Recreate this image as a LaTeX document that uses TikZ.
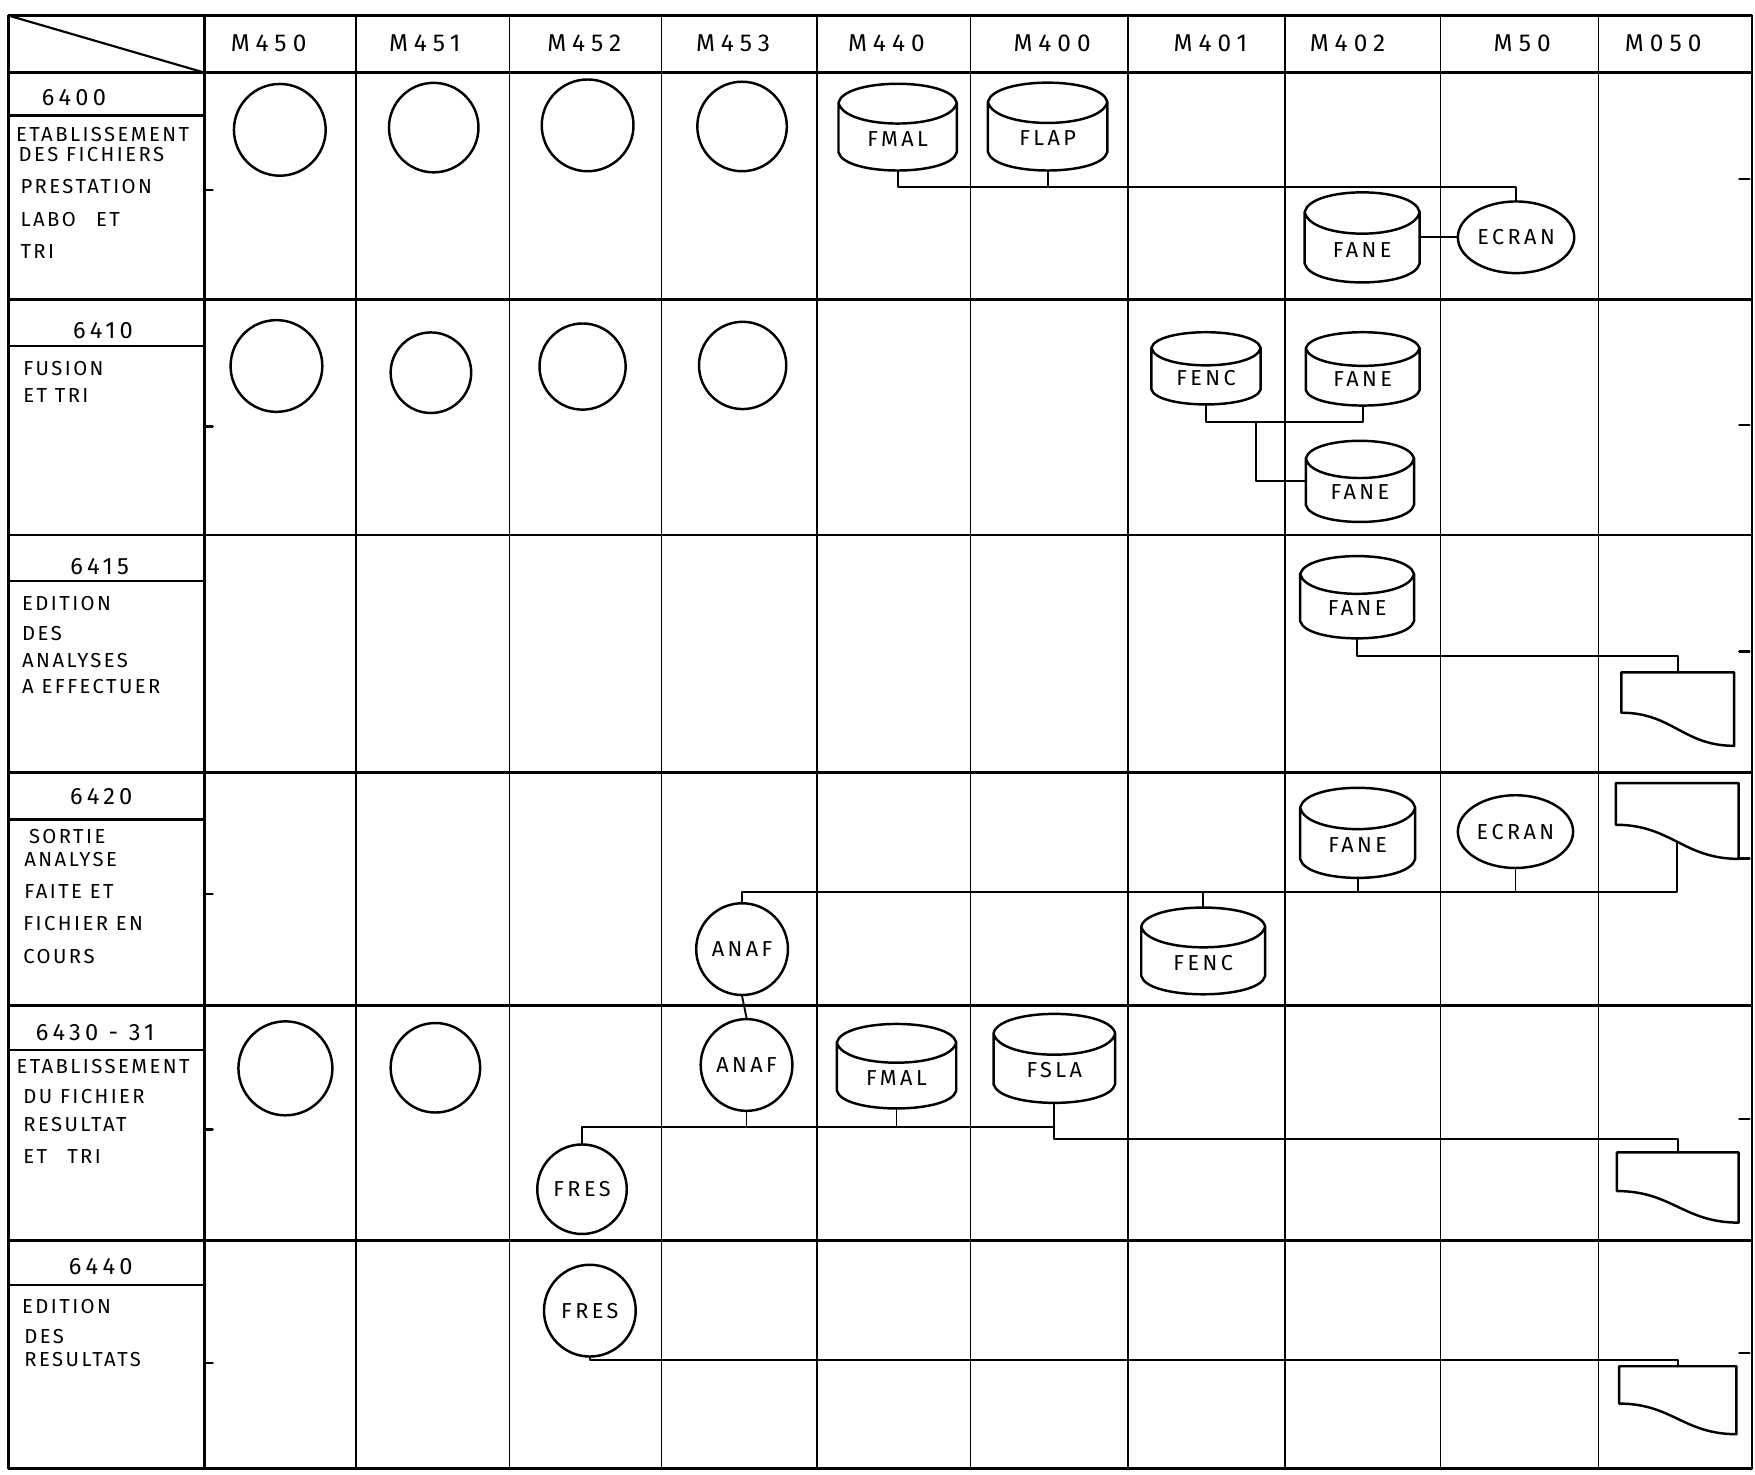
\documentclass[tikz,border=0pt]{standalone}
\usepackage{fontspec}
\setmainfont{Fira Sans}
\newfontfamily\hdfont[LetterSpace=25]{Fira Sans}
\newfontfamily\lbfont[LetterSpace=12]{Fira Sans}
\newfontfamily\shfont[LetterSpace=16]{Fira Sans}
\newfontfamily\nmfont[LetterSpace=18]{Fira Sans}
\usetikzlibrary{shapes.geometric,calc}
\tikzset{
 gridthick/.style={line width=1.5pt},
 gridthin/.style={line width=0.75pt},
 conn/.style={line width=0.95pt},
 shp/.style={line width=1.25pt},
 hdtext/.style={font=\hdfont\fontsize{12.4}{14}\selectfont, inner sep=0pt},
 numtext/.style={font=\nmfont\fontsize{12}{14}\selectfont, inner sep=0pt},
 lbtext/.style={font=\lbfont\fontsize{10.3}{12}\selectfont, inner sep=0pt, anchor=west},
 proc/.style={circle, draw, shp, inner sep=0pt, minimum size={#1*0.04cm}, font=\shfont\fontsize{11}{12}\selectfont},
 ecran/.style 2 args={ellipse, draw, shp, inner sep=0pt, minimum width={#1*0.02cm}, minimum height={#2*0.02cm}, font=\shfont\fontsize{11}{12}\selectfont},
 disk/.style 2 args={rectangle, inner sep=0pt, minimum width={#1*0.02cm}, text height={(0.64*#2+6.5)*0.02cm}, text depth={(0.36*#2-6.5)*0.02cm}, font=\shfont\fontsize{11}{12}\selectfont},
 doc/.style 2 args={rectangle, inner sep=0pt, minimum width={#1*0.02cm}, minimum height={#2*0.02cm}},
}
\begin{document}
\begin{tikzpicture}[x=0.02cm, y=-0.02cm, line cap=round, line join=round]
\useasboundingbox (0,0) rectangle (1568,1317);
% ---------- grid ----------
\foreach \yy in {14,65,268,478,690,898,1108,1312}{\draw[gridthick] (8,\yy) -- (1565,\yy);}
\draw[gridthick] (8,14) -- (8,1312);
\draw[gridthick] (183,14) -- (183,1312);
\foreach \xx in {318,455,591,730,867,1008,1148,1287,1428}{\draw[gridthin] (\xx,14) -- (\xx,1312);}
\draw[line width=1.1pt] (1565,14) -- (1565,1312);
\foreach \yy in {103,309,519,732,938,1148}{\draw[line width=1.3pt] (8,\yy) -- (183,\yy);}
\draw[line width=1.1pt] (8,14) -- (183,65);
\foreach \yy in {170,381,799,1009,1218}{\draw[line width=1.2pt] (183,\yy) -- (190,\yy);}
\foreach \yy in {160,380,582,767,1000,1209}{\draw[line width=1.2pt] (1554,\yy) -- (1563,\yy);}
% ---------- header ----------
\node[hdtext] (hM450) at (240,39) {M450};
\node[hdtext] (hM451) at (379.5,39) {M451};
\node[hdtext] (hM452) at (522,39) {M452};
\node[hdtext] (hM453) at (655,39) {M453};
\node[hdtext] (hM440) at (792,39) {M440};
\node[hdtext] (hM400) at (940,39) {M400};
\node[hdtext] (hM401) at (1081.5,39) {M401};
\node[hdtext] (hM402) at (1204,39) {M402};
\node[hdtext] (hM50) at (1360,39) {M50};
\node[hdtext] (hM050) at (1486,39) {M050};
% ---------- row labels ----------
\node[numtext] (n6400) at (66,87) {6400};
\node[lbtext] (l1a) at (14,120.6) {ETABLISSEMENT};
\node[lbtext] (l1b) at (16.4,138.5) {DES FICHIERS};
\node[lbtext] (l1c) at (18,166.8) {PRESTATION};
\node[lbtext] (l1d) at (18,196.5) {LABO\quad ET};
\node[lbtext] (l1e) at (18,224.8) {TRI};
\node[numtext] (n6410) at (92,295) {6410};
\node[lbtext] (l2a) at (20.5,329) {FUSION};
\node[lbtext] (l2b) at (20.5,353) {ET TRI};
\node[numtext] (n6415) at (89,506) {6415};
\node[lbtext] (l3a) at (19.5,539) {EDITION};
\node[lbtext] (l3b) at (19.5,565.8) {DES};
\node[lbtext] (l3c) at (19.5,589.7) {ANALYSES};
\node[lbtext] (l3d) at (19.5,613.5) {A EFFECTUER};
\node[numtext] (n6420) at (90.5,712) {6420};
\node[lbtext] (l4a) at (25.6,747) {SORTIE};
\node[lbtext] (l4b) at (21.5,768.3) {ANALYSE};
\node[lbtext] (l4c) at (21.5,796.6) {FAITE ET};
\node[lbtext] (l4d) at (20.5,825) {FICHIER EN};
\node[lbtext] (l4e) at (20.5,854.7) {COURS};
\node[numtext] (n6430) at (85,923) {6430 - 31};
\node[lbtext] (l5a) at (14.4,953) {ETABLISSEMENT};
\node[lbtext] (l5b) at (20.5,979.8) {DU FICHIER};
\node[lbtext] (l5c) at (20.5,1005) {RESULTAT};
\node[lbtext] (l5d) at (20.5,1033.4) {ET\quad TRI};
\node[numtext] (n6440) at (90,1132) {6440};
\node[lbtext] (l6a) at (19.5,1167.4) {EDITION};
\node[lbtext] (l6b) at (21.5,1194) {DES};
\node[lbtext] (l6c) at (21.5,1215) {RESULTATS};
% ---------- row 6400 ----------
\node[proc=41] (cA1) at (250,116) {};
\node[proc=40] (cA2) at (387.5,114) {};
\node[proc=41] (cA3) at (525,112) {};
\node[proc=40] (cA4) at (663,113) {};
\node[disk={105}{77}] (fmalA) at (802,113.5) {FMAL};
\node[disk={106}{78}] (flapA) at (936,113) {FLAP};
\node[disk={102}{80}] (faneA) at (1217,212) {FANE};
\node[ecran={104}{64}] (ecranA) at (1354.5,212) {ECRAN};
% ---------- row 6410 ----------
\node[proc=41] (cB1) at (247,327) {};
\node[proc=36] (cB2) at (385,333) {};
\node[proc=38.5] (cB3) at (520.5,327.5) {};
\node[proc=39] (cB4) at (663.5,326.5) {};
\node[disk={97}{64}] (fencB) at (1077.5,329) {FENC};
\node[disk={101}{65}] (faneB) at (1217.5,329.5) {FANE};
\node[disk={96}{72}] (faneBb) at (1215,430) {FANE};
% ---------- row 6415 ----------
\node[disk={101}{73}] (faneC) at (1212.5,533.5) {FANE};
\node[doc={100}{65}] (docC) at (1499,633.5) {};
% ---------- row 6420 ----------
\node[disk={102}{80}] (faneD) at (1213,744) {FANE};
\node[ecran={103}{65}] (ecranD) at (1354,743) {ECRAN};
\node[doc={109}{67}] (docD) at (1498.5,733.5) {};
\node[disk={110}{77}] (fencD) at (1075,849.5) {FENC};
\node[proc=41] (anafD) at (663,848) {ANAF};
% ---------- row 6430-31 ----------
\node[proc=42] (cE1) at (255,954.5) {};
\node[proc=40] (cE2) at (389,954) {};
\node[proc=41] (anafE) at (667,951.5) {ANAF};
\node[disk={106}{75}] (fmalE) at (801,952.5) {FMAL};
\node[disk={108}{79}] (fslaE) at (942,945.5) {FSLA};
\node[proc=40] (fresE) at (520,1062.5) {FRES};
\node[doc={108}{62}] (docE) at (1499,1061) {};
% ---------- row 6440 ----------
\node[proc=41] (fresF) at (527,1171) {FRES};
\node[doc={104}{60}] (docF) at (1499,1251) {};
% ---------- disk outlines ----------
\foreach \dk in {fmalA,flapA,faneA,fencB,faneB,faneBb,faneC,faneD,fencD,fmalE,fslaE}{
 \draw[shp] let \p1=(\dk.north west), \p2=(\dk.south east), \n1={\x2-\x1}, \n2={\y1-\y2} in
 ({\x1},{\y1-0.22*\n2}) .. controls ({\x1+0.05*\n1},{\y1+0.07*\n2}) and ({\x2-0.05*\n1},{\y1+0.07*\n2}) .. ({\x2},{\y1-0.22*\n2})
 .. controls ({\x2-0.05*\n1},{\y1-0.54*\n2}) and ({\x1+0.05*\n1},{\y1-0.54*\n2}) .. ({\x1},{\y1-0.22*\n2})
 -- ({\x1},{\y2+0.21*\n2})
 .. controls ({\x1+0.05*\n1},{\y2-0.07*\n2}) and ({\x2-0.05*\n1},{\y2-0.07*\n2}) .. ({\x2},{\y2+0.21*\n2})
 -- ({\x2},{\y1-0.22*\n2});
}
% ---------- document outlines ----------
\foreach \dc in {docC,docD,docE,docF}{
 \draw[shp] let \p1=(\dc.north west), \p2=(\dc.south east), \n1={\x2-\x1}, \n2={\y1-\y2} in
 ({\x1},{\y2+0.45*\n2}) -- ({\x1},{\y1}) -- ({\x2},{\y1}) -- ({\x2},{\y2})
 .. controls ({\x1+0.55*\n1},{\y2}) and ({\x1+0.45*\n1},{\y2+0.45*\n2}) .. ({\x1},{\y2+0.45*\n2});
}
% ---------- connectors ----------
\coordinate (yA) at (0,167);
\draw[conn] (fmalA.south) -- (fmalA.south |- yA) -| (ecranA.north);
\draw[conn] (flapA.south) -- (flapA.south |- yA);
\draw[conn] (faneA.east) -- (ecranA.west);
\coordinate (yB) at (0,377);
\coordinate (jB) at (1122,377);
\draw[conn] (fencB.south) -- (fencB.south |- yB) -| (faneB.south);
\draw[conn] (jB) |- (faneBb.west);
\coordinate (yC) at (0,586);
\draw[conn] (faneC.south) -- (faneC.south |- yC) -| (docC.north);
\coordinate (yD) at (0,797);
\coordinate (docDin) at ($(docD.south)+(0,-15)$);
\draw[conn] (anafD.north) -- (anafD.north |- yD) -| (docDin);
\draw[conn] (faneD.south) -- (faneD.south |- yD);
\draw[conn] (ecranD.south) -- (ecranD.south |- yD);
\draw[conn] (fencD.north) -- (fencD.north |- yD);
\draw[conn] (anafD.south) -- (anafE.north);
\coordinate (yE1) at (0,1007);
\coordinate (yE2) at (0,1018);
\draw[conn] (fresE.north) |- (fslaE.south |- yE1);
\draw[conn] (anafE.south) -- (anafE.south |- yE1);
\draw[conn] (fmalE.south) -- (fmalE.south |- yE1);
\draw[conn] (fslaE.south) |- (docE.north |- yE2) -- (docE.north);
\coordinate (yF) at (0,1215);
\draw[conn] (fresF.south) |- (docF.north |- yF) -- (docF.north);
\end{tikzpicture}
\end{document}
